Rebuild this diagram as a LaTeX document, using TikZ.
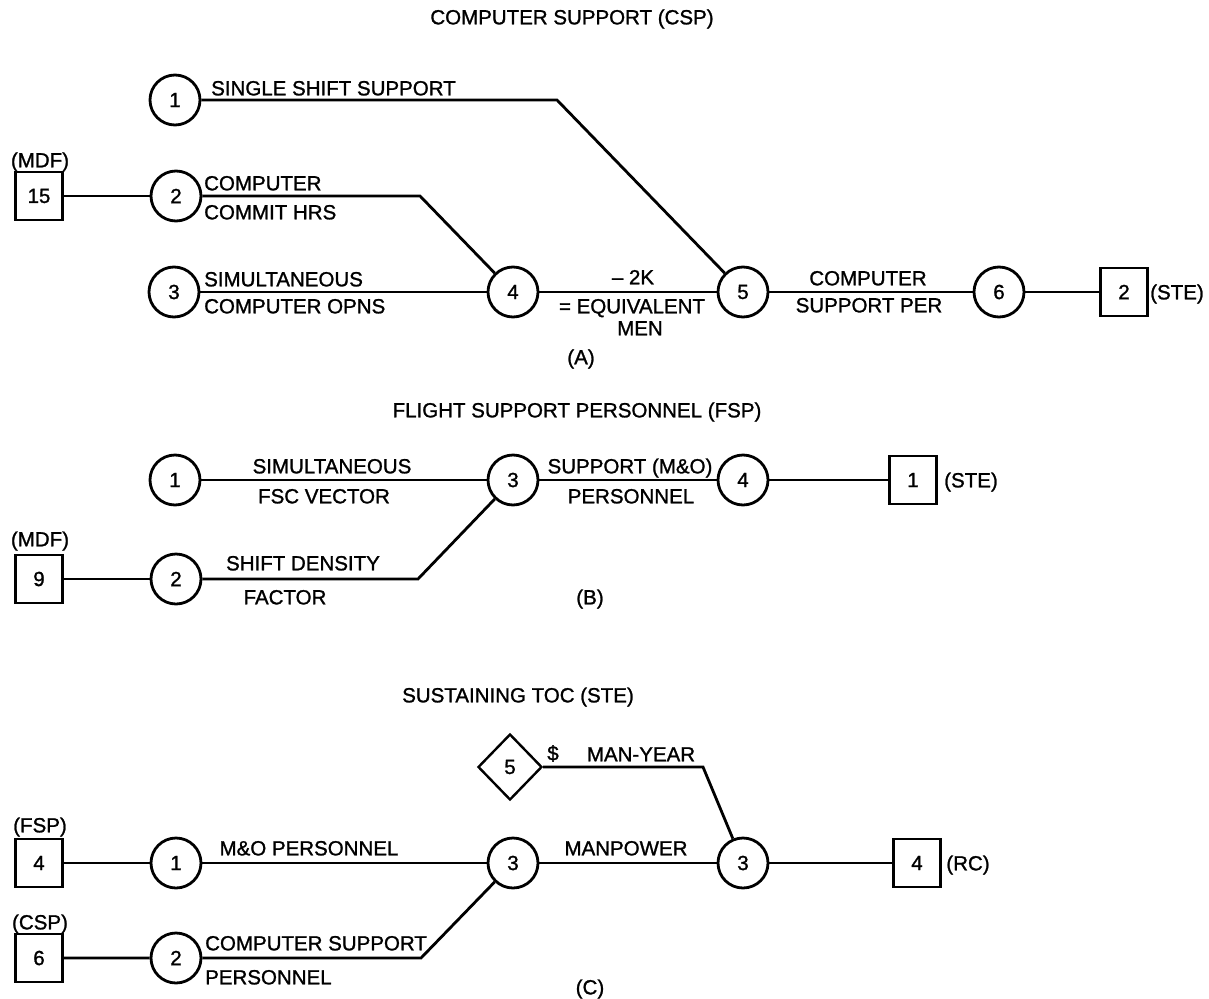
\documentclass[tikz,border=0pt]{standalone}
\usepackage{fontspec}
\setmainfont{Liberation Sans}[FakeBold=1.2]
\usetikzlibrary{shapes.geometric}
\begin{document}
\begin{tikzpicture}[x=1pt,y=-1pt,
  every node/.style={font=\fontsize{20.5}{24}\selectfont},
  circ/.style={circle, draw, minimum size=50pt, inner sep=0pt, line width=2.8pt},
  sq/.style={rectangle, draw, minimum width=47pt, minimum height=48pt, inner sep=0pt, line width=2.8pt},
  dia/.style={diamond, draw, minimum width=64pt, minimum height=66pt, inner sep=0pt, line width=2.4pt},
  lbl/.style={inner sep=0pt, text height=14.7pt, text depth=0pt},
  conn/.style={line width=2.8pt}]
\useasboundingbox (0,0) rectangle (1209,998);

% ---------- (A) ----------
\node[lbl] (tA) at (572,17) {COMPUTER SUPPORT (CSP)};
\node[circ] (a1) at (175,100) {1};
\node[circ] (a2) at (176,196) {2};
\node[circ] (a3) at (174,292) {3};
\node[circ] (a4) at (513,292) {4};
\node[circ] (a5) at (743,292) {5};
\node[circ] (a6) at (999,292) {6};
\node[sq] (a15) at (39,196) {15};
\node[lbl] (amdf) at (40,160) {(MDF)};
\node[sq] (aste) at (1124,292) {2};
\node[lbl] (astel) at (1177,292) {(STE)};
\node[lbl, anchor=west] (t1) at (211,88) {SINGLE SHIFT SUPPORT};
\node[lbl, anchor=west] (t2) at (204,183) {COMPUTER};
\node[lbl, anchor=west] (t3) at (204,212) {COMMIT HRS};
\node[lbl, anchor=west] (t4) at (204,279) {SIMULTANEOUS};
\node[lbl, anchor=west] (t5) at (204,306) {COMPUTER OPNS};
\node[lbl] (t6) at (633,277) {{--} 2K};
\node[lbl] (t7) at (632,306) {= EQUIVALENT};
\node[lbl] (t8) at (640,328) {MEN};
\node[lbl] (t9) at (868,278) {COMPUTER};
\node[lbl] (t10) at (869,305) {SUPPORT PER};
\node[lbl] (tAl) at (581,357) {(A)};
\coordinate (ab1) at (557,100);
\coordinate (ab2) at (420,196);
\draw[conn] (a1) -- (ab1) -- (a5);
\draw[conn] (a15) -- (a2);
\draw[conn] (a2) -- (ab2) -- (a4);
\draw[conn] (a3) -- (a4) -- (a5) -- (a6) -- (aste);

% ---------- (B) ----------
\node[lbl] (tB) at (577,410) {FLIGHT SUPPORT PERSONNEL (FSP)};
\node[circ] (b1) at (175,480) {1};
\node[circ] (b3) at (513,480) {3};
\node[circ] (b4) at (743,480) {4};
\node[sq] (bste) at (913,480) {1};
\node[lbl] (bstel) at (971,480) {(STE)};
\node[circ] (b2) at (176,579) {2};
\node[sq] (b9) at (39,579) {9};
\node[lbl] (bmdf) at (40,539) {(MDF)};
\node[lbl] (u1) at (332,466) {SIMULTANEOUS};
\node[lbl] (u2) at (324,496) {FSC VECTOR};
\node[lbl] (u3) at (630,466) {SUPPORT (M\&O)};
\node[lbl] (u4) at (631,496) {PERSONNEL};
\node[lbl] (u5) at (303,563) {SHIFT DENSITY};
\node[lbl] (u6) at (285,597) {FACTOR};
\node[lbl] (tBl) at (590,597) {(B)};
\coordinate (bb1) at (418,579);
\draw[conn] (b1) -- (b3) -- (b4) -- (bste);
\draw[conn] (b9) -- (b2);
\draw[conn] (b2) -- (bb1) -- (b3);

% ---------- (C) ----------
\node[lbl] (tC) at (518,695) {SUSTAINING TOC (STE)};
\node[dia] (d5) at (510,767) {5};
\node[lbl] (v1) at (553,753) {\$};
\node[lbl] (v2) at (641,754) {MAN-YEAR};
\node[circ] (c1) at (176,863) {1};
\node[sq] (c4) at (39,863) {4};
\node[lbl] (cfsp) at (40,825) {(FSP)};
\node[circ] (c2) at (176,958) {2};
\node[sq] (c6) at (39,958) {6};
\node[lbl] (ccsp) at (40,922) {(CSP)};
\node[circ] (c3) at (513,863) {3};
\node[circ] (c3b) at (743,863) {3};
\node[sq] (crc) at (917,863) {4};
\node[lbl] (crcl) at (968,863) {(RC)};
\node[lbl] (v3) at (309,848) {M\&O PERSONNEL};
\node[lbl] (v4) at (626,848) {MANPOWER};
\node[lbl, anchor=west] (v5) at (205,943) {COMPUTER SUPPORT};
\node[lbl, anchor=west] (v6) at (205,977) {PERSONNEL};
\node[lbl] (tCl) at (590,987) {(C)};
\coordinate (cb1) at (421,958);
\coordinate (cb2) at (703,767);
\draw[conn] (c4) -- (c1) -- (c3) -- (c3b) -- (crc);
\draw[conn] (c6) -- (c2) -- (cb1) -- (c3);
\draw[conn] (d5.east) -- (cb2) -- (c3b);
\end{tikzpicture}
\end{document}
